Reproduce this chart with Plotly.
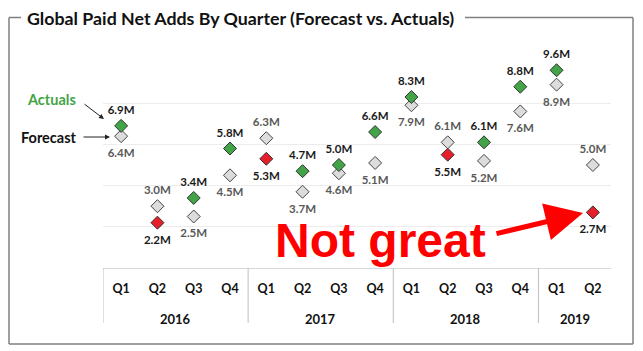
import plotly.graph_objects as go

years = ["2016"] * 4 + ["2017"] * 4 + ["2018"] * 4 + ["2019"] * 2
quarters = ["Q1", "Q2", "Q3", "Q4"] * 3 + ["Q1", "Q2"]
year_labels = ["2016", "2017", "2018", "2019"]
forecast = [6.4, 3.0, 2.5, 4.5, 6.3, 3.7, 4.6, 5.1, 7.9, 6.1, 5.2, 7.6, 8.9, 5.0]
actuals = [6.9, 2.2, 3.4, 5.8, 5.3, 4.7, 5.0, 6.6, 8.3, 5.5, 6.1, 8.8, 9.6, 2.7]

GREEN = "#43a447"
RED = "#e5202a"
GRAY_FILL = "#dcdcdc"
FONT = "Lato, Carlito, Open Sans, sans-serif"

W, H = 643, 351
L, R, T, B = 103, 32, 62, 83
PW, PH = W - L - R, H - T - B


def px(x):
    return (x - L) / PW


def py(y):
    return (H - B - y) / PH


keys = [f"{y} {q}" for y, q in zip(years, quarters)]
act_up = [a >= f for a, f in zip(actuals, forecast)]
act_colors = [GREEN if u else RED for u in act_up]
act_pos = ["top center" if u else "bottom center" for u in act_up]
fc_pos = ["bottom center" if u else "top center" for u in act_up]
UP_S, DN_S = 13, 18
act_lsize = [UP_S if u else DN_S for u in act_up]
fc_lsize = [DN_S if u else UP_S for u in act_up]

fig = go.Figure()
# label carriers (invisible markers set text offset)
fig.add_trace(go.Scatter(
    x=keys, y=forecast, mode="markers+text",
    marker=dict(symbol="circle", size=fc_lsize, color="rgba(0,0,0,0)"),
    text=[f"{v:.1f}M" for v in forecast], textposition=fc_pos,
    textfont=dict(family=FONT, size=11.5, color="#595959", weight="bold"),
    cliponaxis=False, showlegend=False, hoverinfo="skip",
))
fig.add_trace(go.Scatter(
    x=keys, y=actuals, mode="markers+text",
    marker=dict(symbol="circle", size=act_lsize, color="rgba(0,0,0,0)"),
    text=[f"{v:.1f}M" for v in actuals], textposition=act_pos,
    textfont=dict(family=FONT, size=11.5, color="#1a1a1a", weight="bold"),
    cliponaxis=False, showlegend=False, hoverinfo="skip",
))
fig.add_trace(go.Scatter(
    x=keys, y=forecast, mode="markers", name="Forecast",
    marker=dict(symbol="diamond", size=10, color=GRAY_FILL, line=dict(color="#444", width=1)),
    cliponaxis=False, showlegend=False,
))
fig.add_trace(go.Scatter(
    x=keys, y=actuals, mode="markers", name="Actuals",
    marker=dict(symbol="diamond", size=10, color=act_colors, line=dict(color="#333", width=1)),
    cliponaxis=False, showlegend=False,
))

# frame
fc = "#7f7f7f"
segs = [(9, 17.5, 21, 17.5), (9, 17.5, 9, 344), (9, 344, 633, 344), (633, 17.5, 633, 344), (465, 17.5, 633, 17.5)]
shapes = [dict(type="line", xref="paper", yref="paper", x0=px(a), y0=py(b), x1=px(c), y1=py(d),
               line=dict(color=fc, width=1.5)) for a, b, c, d in segs]

# year group dividers and labels
groups = []
start = 0
for yl in year_labels:
    n = years.count(yl)
    groups.append((yl, start, start + n - 1))
    start += n
for yl, s, e in groups:
    shapes.append(dict(type="line", xref="x", yref="paper", x0=s - 0.5, x1=s - 0.5,
                       y0=0, y1=py(323), line=dict(color="#bfbfbf", width=1)))

annotations = [
    dict(xref="x", yref="paper", x=(s + e) / 2, y=py(319), xanchor="center", yanchor="middle",
         text=yl, showarrow=False, font=dict(family=FONT, size=13, color="#111", weight="bold"))
    for yl, s, e in groups
]
annotations += [
    dict(xref="paper", yref="paper", x=px(25), y=py(18), xanchor="left", yanchor="middle",
         text="Global Paid Net Adds By Quarter (Forecast vs. Actuals)", showarrow=False,
         font=dict(family=FONT, size=17.8, color="#111", weight="bold")),
    dict(xref="paper", yref="paper", x=px(51.5), y=py(99), xanchor="center", yanchor="middle",
         text="Actuals", showarrow=False, font=dict(family=FONT, size=14.5, color=GREEN, weight="bold")),
    dict(xref="paper", yref="paper", x=px(48.5), y=py(137), xanchor="center", yanchor="middle",
         text="Forecast", showarrow=False, font=dict(family=FONT, size=14.5, color="#111", weight="bold")),
    dict(xref="paper", yref="paper", x=px(104), y=py(119), ax=-21, ay=-16, showarrow=True,
         arrowhead=2, arrowsize=1, arrowwidth=1, arrowcolor="#222", text=""),
    dict(xref="paper", yref="paper", x=px(110), y=py(137), ax=-28, ay=0, showarrow=True,
         arrowhead=2, arrowsize=1, arrowwidth=1, arrowcolor="#222", text=""),
    dict(xref="paper", yref="paper", x=px(380), y=py(240), xanchor="center", yanchor="middle",
         text="Not great", showarrow=False,
         font=dict(family="Liberation Sans, Arial, sans-serif", size=48, color="#ff0000", weight="bold")),
    dict(xref="paper", yref="paper", x=px(583), y=py(213), ax=-88, ay=21, showarrow=True,
         arrowhead=2, arrowsize=1.5, arrowwidth=5, arrowcolor="#ff0000", text=""),
]

fig.update_layout(
    width=W, height=H, margin=dict(l=L, r=R, t=T, b=B),
    paper_bgcolor="white", plot_bgcolor="white",
    shapes=shapes, annotations=annotations,
    xaxis=dict(type="category", range=[-0.5, len(keys) - 0.5], tickvals=keys, ticktext=quarters,
               showline=True, linecolor="#d9d9d9", linewidth=1, showgrid=False, ticks="",
               ticklabelstandoff=9,
               tickfont=dict(family=FONT, size=12.5, color="#111", weight="bold")),
    yaxis=dict(range=[0, 10], dtick=2, showticklabels=False, showgrid=True, gridcolor="#ececec",
               gridwidth=1, zeroline=False, showline=False),
)

fig.write_html("out.html")
